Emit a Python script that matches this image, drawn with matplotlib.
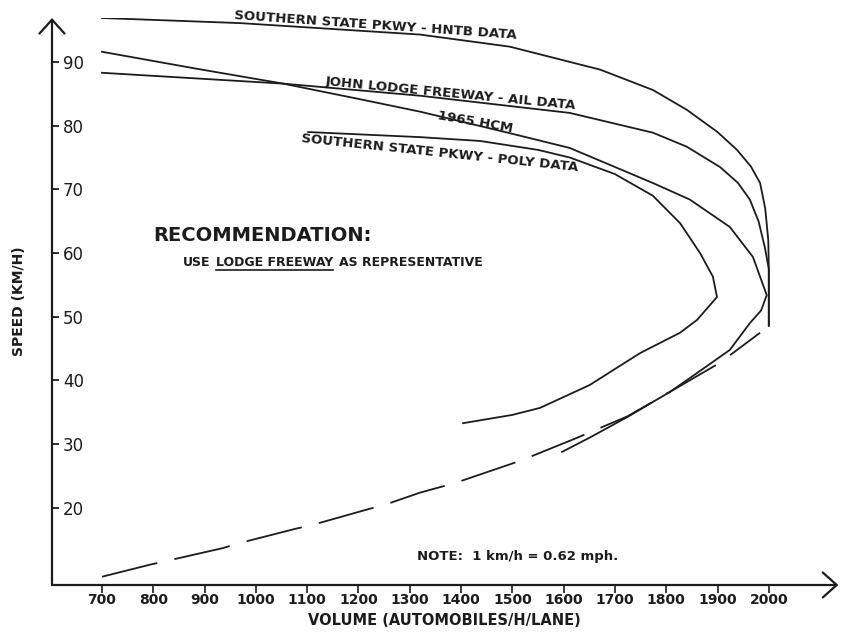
import matplotlib
matplotlib.use('Agg')
import matplotlib.pyplot as plt
from matplotlib import font_manager
from matplotlib.lines import Line2D

# speed-volume curves (volume in autos/h/lane, speed in km/h)
hntb_vol = [700, 969, 1320, 1495, 1671, 1774, 1840, 1900, 1938, 1965, 1983, 1993,
            1999, 2000, 2000]
hntb_spd = [96.9, 96.1, 94.3, 92.4, 88.8, 85.6, 82.5, 79.0, 76.2, 73.6, 71.0, 67.0,
            62.0, 57.5, 48.6]

lodge_vol = [700, 1053, 1320, 1612, 1774, 1840, 1905, 1940, 1963, 1980, 1992,
             2000, 2000]
lodge_spd = [88.3, 86.6, 84.7, 82.0, 78.9, 76.7, 73.5, 71.0, 68.4, 65.0, 61.0,
             57.5, 48.6]

hcm_vol = [700, 880, 1053, 1200, 1320, 1491, 1612, 1774, 1846, 1924, 1969, 1996,
           1985, 1963, 1924, 1850, 1807, 1725, 1650, 1597]
hcm_spd = [91.6, 89.0, 86.6, 84.2, 82.2, 78.9, 76.5, 71.0, 68.4, 64.1, 59.4, 53.4,
           51.0, 49.0, 44.8, 40.6, 38.2, 34.3, 31.0, 28.8]

poly_vol = [1102, 1320, 1437, 1550, 1612, 1700, 1774, 1827, 1866, 1891, 1899,
            1860, 1827, 1749, 1651, 1554, 1500, 1404]
poly_spd = [79.0, 78.2, 77.6, 76.2, 75.0, 72.4, 69.0, 64.7, 60.0, 56.3, 53.1,
            49.5, 47.5, 44.3, 39.3, 35.7, 34.6, 33.3]

# dashed lower branch
dash_vol = [700, 794, 827, 936, 969, 1076, 1109, 1219, 1252, 1320, 1388, 1501,
            1528, 1626, 1655, 1725, 1807, 1905, 1983]
dash_spd = [9.2, 11.1, 11.7, 13.7, 14.5, 16.7, 17.3, 19.8, 20.5, 22.4, 23.9, 27.0,
            27.8, 31.0, 32.0, 34.4, 38.2, 42.8, 47.5]

x_ticks = list(range(700, 2001, 100))
y_ticks = list(range(20, 91, 10))

names = {f.name for f in font_manager.fontManager.ttflist}
if 'Liberation Sans Narrow' in names:
    narrow = 'Liberation Sans Narrow'
    lab_size = 12
    xt_size = 12.5
else:
    narrow = 'DejaVu Sans'
    lab_size = 9.6
    xt_size = 10

plt.rcParams['lines.scale_dashes'] = False
ink = '#1c1c1c'

fig = plt.figure(figsize=(8.41, 6.38), dpi=100)
ax = fig.add_axes([52/841, 53/638, 784/841, 567/638])
ax.set_xlim(602.5, 2131)
ax.set_ylim(7.9, 96.9)

lw = 1.3
ax.plot(hntb_vol, hntb_spd, color=ink, lw=lw)
ax.plot(lodge_vol, lodge_spd, color=ink, lw=lw)
ax.plot(hcm_vol, hcm_spd, color=ink, lw=lw)
ax.plot(poly_vol, poly_spd, color=ink, lw=lw)
ax.plot(dash_vol, dash_spd, color=ink, lw=lw, dashes=(41, 12.6))

# axes with open arrow heads
for s in ax.spines.values():
    s.set_visible(False)
arr = dict(arrowstyle='->,head_length=0.5,head_width=0.45', lw=1.6, color=ink,
           shrinkA=0, shrinkB=0, mutation_scale=20)
ax.annotate('', xy=(0, 1), xytext=(0, 0), xycoords='axes fraction', arrowprops=arr)
ax.annotate('', xy=(1.003, 0), xytext=(0, 0), xycoords='axes fraction', arrowprops=arr)

ax.set_xticks(x_ticks)
ax.set_yticks(y_ticks)
ax.tick_params(axis='x', direction='out', length=6, width=1.2, color=ink, pad=0,
               labelsize=xt_size)
ax.tick_params(axis='y', direction='in', length=5, width=1.3, color=ink, pad=-8,
               labelsize=12)
for t in ax.get_xticklabels():
    t.set_fontfamily(narrow)
    t.set_fontweight('bold')
    t.set_color(ink)
for t in ax.get_yticklabels():
    t.set_horizontalalignment('left')
    t.set_color(ink)

ax.set_xlabel('VOLUME (AUTOMOBILES/H/LANE)', fontsize=10.5, fontweight='bold',
              color=ink, labelpad=4)
ax.set_ylabel('SPEED (KM/H)', fontsize=10, fontweight='bold', color=ink, labelpad=19)

# curve labels
lab = dict(fontfamily=narrow, fontsize=lab_size, fontweight='bold', color=ink,
           ha='center', va='center', rotation_mode='anchor')
ax.text(1234, 95.8, 'SOUTHERN STATE PKWY - HNTB DATA', rotation=-4, **lab)
ax.text(1380, 85.1, 'JOHN LODGE FREEWAY - AIL DATA', rotation=-5.5, **lab)
ax.text(1427, 80.6, '1965 HCM', rotation=-10, **lab)
ax.text(1359, 75.7, 'SOUTHERN STATE PKWY - POLY DATA', rotation=-6, **lab)

ax.text(799, 62.7, 'RECOMMENDATION:', fontsize=14, fontweight='heavy', color=ink,
        ha='left', va='center')
t1 = ax.text(858, 58.5, 'USE', fontsize=9, fontweight='bold', color=ink,
             ha='left', va='center')
t2 = ax.annotate('LODGE FREEWAY', xy=(1, 0), xycoords=t1, xytext=(4, 0),
                 textcoords='offset points', fontsize=9, fontweight='bold',
                 color=ink, ha='left', va='bottom')
t3 = ax.annotate('AS REPRESENTATIVE', xy=(1, 0), xycoords=t2, xytext=(4, 0),
                 textcoords='offset points', fontsize=9, fontweight='bold',
                 color=ink, ha='left', va='bottom')

ax.text(1314, 12.3, 'NOTE:  1 km/h = 0.62 mph.', fontsize=9.5, fontweight='bold',
        color=ink, ha='left', va='center')

# underline under LODGE FREEWAY
fig.canvas.draw()
bb = t2.get_window_extent()
inv = fig.transFigure.inverted()
(x0, y0), (x1, _) = inv.transform([(bb.x0, bb.y0 - 1), (bb.x1, bb.y0)])
fig.add_artist(Line2D([x0, x1], [y0, y0], color=ink, lw=1.2, transform=fig.transFigure))

fig.savefig('out.png', dpi=100, facecolor='white')
